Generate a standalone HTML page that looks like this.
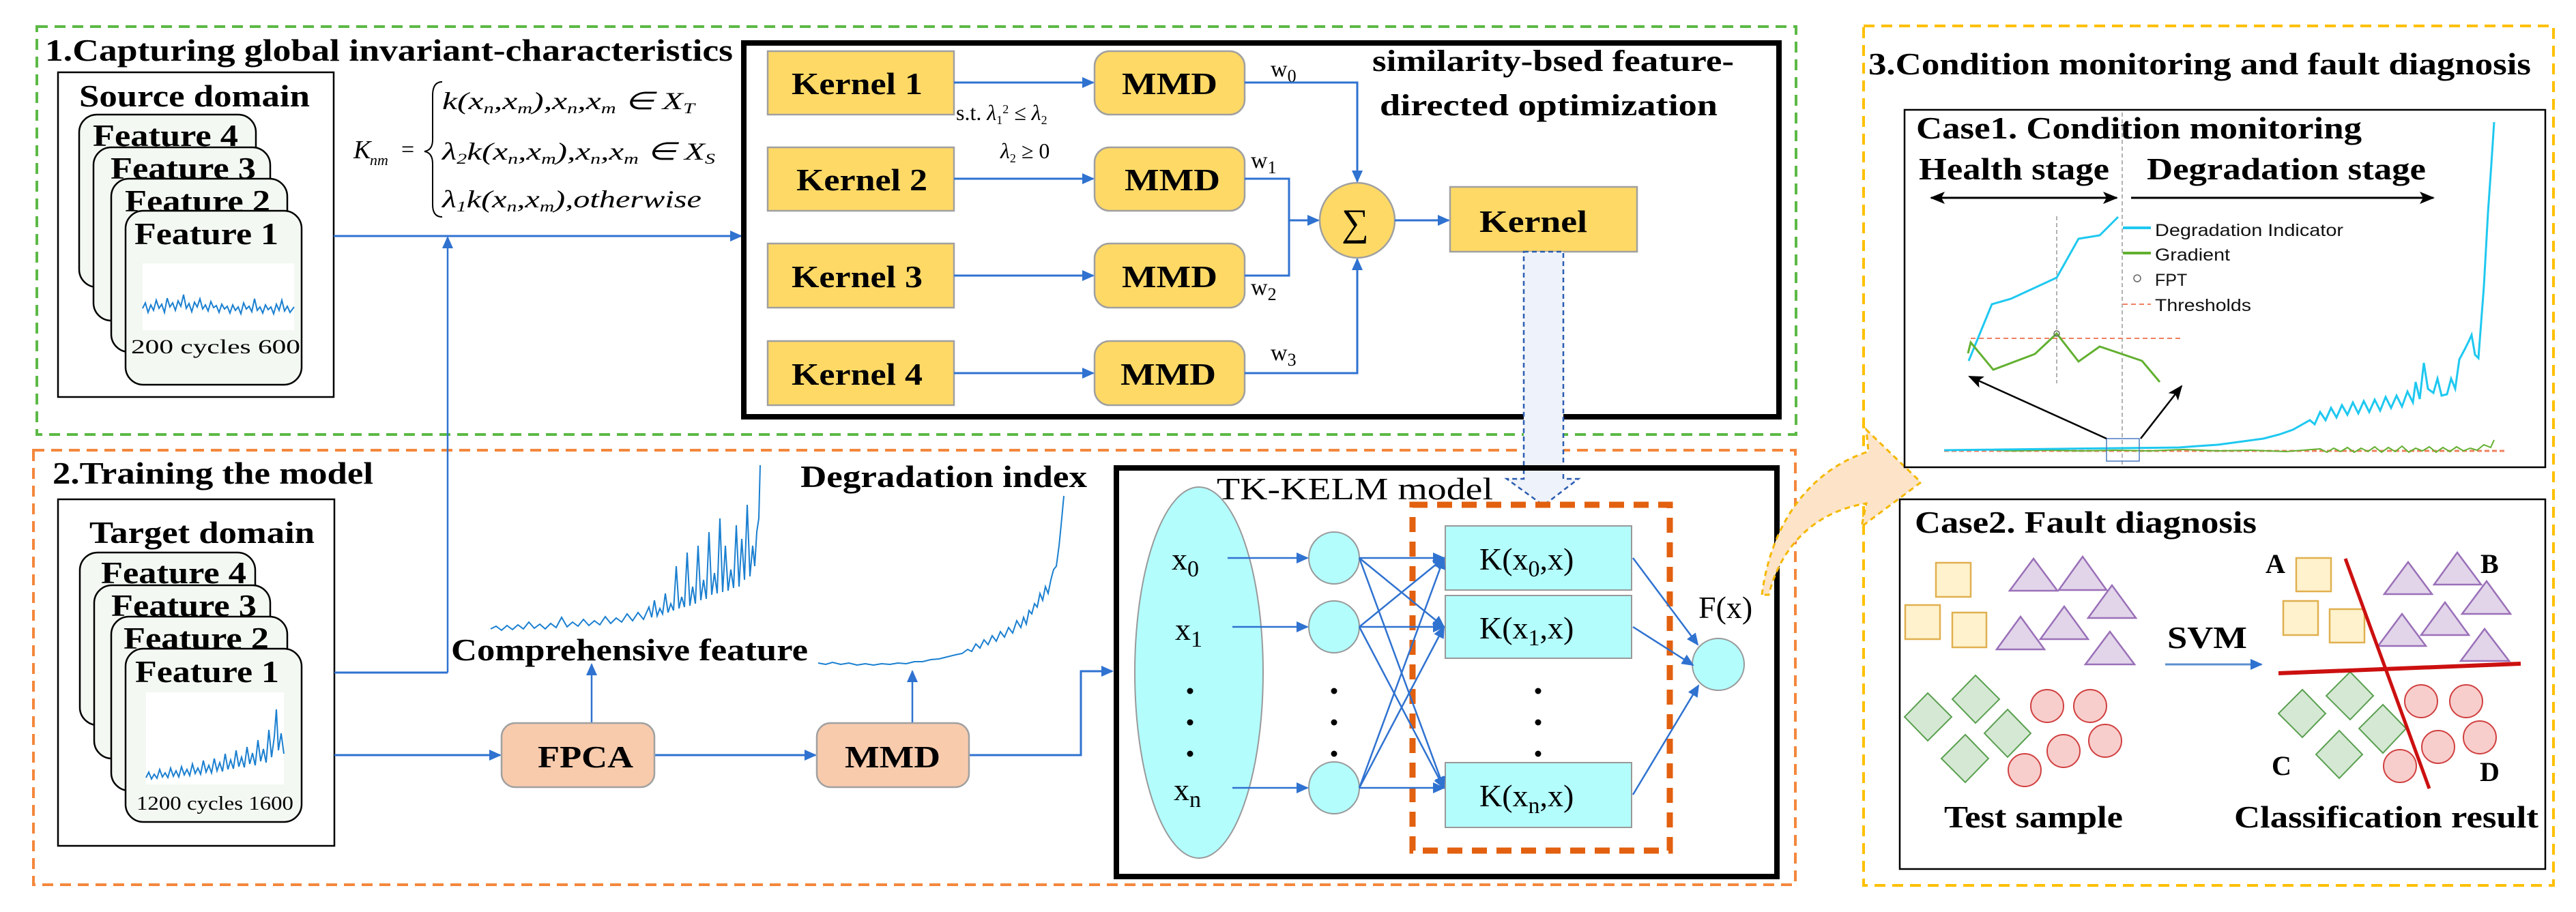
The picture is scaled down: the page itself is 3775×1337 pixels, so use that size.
<!DOCTYPE html>
<html><head><meta charset="utf-8"><style>
html,body{margin:0;padding:0;background:#fff}
svg{display:block}
.t{font-family:"Liberation Serif",serif;font-weight:bold;fill:#000}
.s{font-family:"Liberation Sans",sans-serif;fill:#111}
.i{font-family:"Liberation Serif",serif;font-style:italic;fill:#000}
</style></head><body>
<svg width="3775" height="1337" viewBox="0 0 3775 1337" xmlns="http://www.w3.org/2000/svg">
<defs>
<marker id="ab" markerWidth="18" markerHeight="18" refX="16" refY="9" orient="auto" markerUnits="userSpaceOnUse"><path d="M0,1 L18,9 L0,17 Z" fill="#2f72d0"/></marker>
<marker id="ak" markerWidth="22" markerHeight="22" refX="20" refY="11" orient="auto" markerUnits="userSpaceOnUse"><path d="M0,2 L22,11 L0,20 L5,11 Z" fill="#000"/></marker>
<marker id="ak2" markerWidth="22" markerHeight="22" refX="20" refY="11" orient="auto-start-reverse" markerUnits="userSpaceOnUse"><path d="M0,2 L22,11 L0,20 L5,11 Z" fill="#000"/></marker>
</defs>

<rect x="54" y="39" width="2578" height="598" fill="none" stroke="#5cb946" stroke-width="4" stroke-dasharray="16,10"/>
<rect x="49" y="660" width="2582" height="637" fill="none" stroke="#f4873c" stroke-width="4" stroke-dasharray="16,10"/>
<rect x="2731" y="38" width="1011" height="1260" fill="none" stroke="#ffc000" stroke-width="4" stroke-dasharray="16,10"/>

<text class="t" x="66" y="89" font-size="46" textLength="1008" lengthAdjust="spacingAndGlyphs">1.Capturing  global invariant-characteristics</text>
<text class="t" x="77" y="709" font-size="46" textLength="470" lengthAdjust="spacingAndGlyphs">2.Training the model</text>
<text class="t" x="2738" y="109" font-size="46" textLength="971" lengthAdjust="spacingAndGlyphs">3.Condition monitoring and fault diagnosis</text>

<!-- Source domain -->
<rect x="85" y="106" width="404" height="476" fill="#fff" stroke="#000" stroke-width="2.5"/>
<text class="t" x="116" y="156" font-size="46" textLength="338" lengthAdjust="spacingAndGlyphs">Source domain</text>
<rect x="116" y="168" width="259" height="253" rx="26" fill="#f3f8f2" stroke="#000" stroke-width="2.5"/>
<text class="t" x="136" y="214" font-size="46" textLength="213" lengthAdjust="spacingAndGlyphs">Feature 4</text>
<rect x="137" y="216" width="259" height="254" rx="26" fill="#f3f8f2" stroke="#000" stroke-width="2.5"/>
<text class="t" x="162" y="262" font-size="46" textLength="213" lengthAdjust="spacingAndGlyphs">Feature 3</text>
<rect x="163" y="262" width="258" height="254" rx="26" fill="#f3f8f2" stroke="#000" stroke-width="2.5"/>
<text class="t" x="183" y="310" font-size="46" textLength="213" lengthAdjust="spacingAndGlyphs">Feature 2</text>
<rect x="184" y="309" width="258" height="255" rx="26" fill="#f3f8f2" stroke="#000" stroke-width="2.5"/>
<text class="t" x="197" y="358" font-size="46" textLength="211" lengthAdjust="spacingAndGlyphs">Feature 1</text>
<rect x="209" y="386" width="222" height="98" fill="#fff"/>
<path fill="none" stroke="#1a7fd0" stroke-width="2" d="M209,452 L213,444 L217,458 L221,447 L225,455 L229,440 L233,452 L237,446 L241,458 L245,437 L249,450 L253,444 L257,455 L261,441 L265,449 L269,432 L273,452 L277,445 L281,457 L285,443 L289,450 L293,438 L297,453 L301,447 L305,456 L309,442 L313,451 L317,448 L321,458 L325,446 L329,453 L333,449 L337,459 L341,447 L345,455 L349,450 L353,460 L357,444 L361,453 L365,449 L369,457 L373,438 L377,455 L381,450 L385,459 L389,447 L393,454 L397,450 L401,460 L405,446 L409,455 L413,440 L417,456 L421,449 L425,458 L431,450"/>
<text class="t" style="font-weight:normal" x="192" y="518" font-size="30" textLength="248" lengthAdjust="spacingAndGlyphs">200   cycles     600</text>

<!-- formula -->
<text class="i" x="518" y="232" font-size="38">K</text><text class="i" x="542" y="242" font-size="22">nm</text>
<text class="t" style="font-weight:normal" x="588" y="230" font-size="34">=</text>
<path d="M648,120 Q634,120 634,140 L634,205 Q634,220 622,222 Q634,224 634,240 L634,300 Q634,318 648,318" fill="none" stroke="#000" stroke-width="2"/>
<text class="i" x="648" y="160" font-size="36" textLength="370" lengthAdjust="spacingAndGlyphs">k(x<tspan font-size="22" dy="6">n</tspan><tspan dy="-6">,x</tspan><tspan font-size="22" dy="6">m</tspan><tspan dy="-6">),x</tspan><tspan font-size="22" dy="6">n</tspan><tspan dy="-6">,x</tspan><tspan font-size="22" dy="6">m</tspan><tspan dy="-6"> ∈ X</tspan><tspan font-size="22" dy="6">T</tspan></text>
<text class="i" x="648" y="234" font-size="36" textLength="400" lengthAdjust="spacingAndGlyphs">λ<tspan font-size="22" dy="6">2</tspan><tspan dy="-6">k(x</tspan><tspan font-size="22" dy="6">n</tspan><tspan dy="-6">,x</tspan><tspan font-size="22" dy="6">m</tspan><tspan dy="-6">),x</tspan><tspan font-size="22" dy="6">n</tspan><tspan dy="-6">,x</tspan><tspan font-size="22" dy="6">m</tspan><tspan dy="-6"> ∈ X</tspan><tspan font-size="22" dy="6">S</tspan></text>
<text class="i" x="648" y="304" font-size="36" textLength="380" lengthAdjust="spacingAndGlyphs">λ<tspan font-size="22" dy="6">1</tspan><tspan dy="-6">k(x</tspan><tspan font-size="22" dy="6">n</tspan><tspan dy="-6">,x</tspan><tspan font-size="22" dy="6">m</tspan><tspan dy="-6">),otherwise</tspan></text>

<line x1="489" y1="346" x2="1086" y2="346" stroke="#2f72d0" stroke-width="3" marker-end="url(#ab)"/>
<line x1="656" y1="986" x2="656" y2="348" stroke="#2f72d0" stroke-width="2.5" marker-end="url(#ab)"/>

<!-- kernel block -->
<rect x="1090" y="63" width="1517" height="548" fill="none" stroke="#000" stroke-width="8"/>
<g fill="#ffd966" stroke="#a0a0a0" stroke-width="2.5">
<rect x="1125" y="75" width="273" height="93"/><rect x="1125" y="216" width="273" height="93"/>
<rect x="1125" y="357" width="273" height="94"/><rect x="1125" y="500" width="273" height="94"/>
<rect x="1604" y="75" width="220" height="93" rx="22"/><rect x="1604" y="216" width="220" height="93" rx="22"/>
<rect x="1604" y="357" width="220" height="94" rx="22"/><rect x="1604" y="500" width="220" height="94" rx="22"/>
<circle cx="1989" cy="323" r="55"/>
<rect x="2125" y="274" width="274" height="95"/>
</g>
<g class="t" font-size="46">
<text x="1160" y="138" textLength="192" lengthAdjust="spacingAndGlyphs">Kernel 1</text>
<text x="1167" y="279" textLength="192" lengthAdjust="spacingAndGlyphs">Kernel 2</text>
<text x="1160" y="421" textLength="192" lengthAdjust="spacingAndGlyphs">Kernel 3</text>
<text x="1160" y="564" textLength="192" lengthAdjust="spacingAndGlyphs">Kernel 4</text>
<text x="1644" y="138" textLength="140" lengthAdjust="spacingAndGlyphs">MMD</text>
<text x="1648" y="279" textLength="140" lengthAdjust="spacingAndGlyphs">MMD</text>
<text x="1644" y="421" textLength="140" lengthAdjust="spacingAndGlyphs">MMD</text>
<text x="1642" y="564" textLength="140" lengthAdjust="spacingAndGlyphs">MMD</text>
<text x="2168" y="340" textLength="158" lengthAdjust="spacingAndGlyphs">Kernel</text>
</g>
<text class="t" style="font-weight:normal" x="1966" y="345" font-size="56">∑</text>
<text class="t" x="2011" y="104" font-size="44" textLength="530" lengthAdjust="spacingAndGlyphs">similarity-bsed feature-</text>
<text class="t" x="2022" y="169" font-size="44" textLength="495" lengthAdjust="spacingAndGlyphs">directed  optimization</text>
<text class="t" style="font-weight:normal" x="1401" y="176" font-size="32">s.t. <tspan class="i">λ</tspan><tspan font-size="18" dy="6">1</tspan><tspan font-size="18" dy="-16">2</tspan><tspan dy="10"> ≤ </tspan><tspan class="i">λ</tspan><tspan font-size="18" dy="6">2</tspan></text>
<text class="t" style="font-weight:normal" x="1466" y="232" font-size="32"><tspan class="i">λ</tspan><tspan font-size="18" dy="6">2</tspan><tspan dy="-6"> ≥ 0</tspan></text>
<g class="t" style="font-weight:normal" font-size="34">
<text x="1862" y="112">w<tspan font-size="26" dy="8">0</tspan></text>
<text x="1833" y="246">w<tspan font-size="26" dy="8">1</tspan></text>
<text x="1833" y="432">w<tspan font-size="26" dy="8">2</tspan></text>
<text x="1862" y="528">w<tspan font-size="26" dy="8">3</tspan></text>
</g>
<g stroke="#2f72d0" stroke-width="3" fill="none">
<line x1="1398" y1="121" x2="1602" y2="121" marker-end="url(#ab)"/>
<line x1="1398" y1="262" x2="1602" y2="262" marker-end="url(#ab)"/>
<line x1="1398" y1="404" x2="1602" y2="404" marker-end="url(#ab)"/>
<line x1="1398" y1="547" x2="1602" y2="547" marker-end="url(#ab)"/>
<polyline points="1824,121 1989,121 1989,266" marker-end="url(#ab)"/>
<polyline points="1824,547 1989,547 1989,380" marker-end="url(#ab)"/>
<polyline points="1824,262 1889,262 1889,404 1824,404"/>
<line x1="1889" y1="323" x2="1932" y2="323" marker-end="url(#ab)"/>
<line x1="2044" y1="323" x2="2123" y2="323" marker-end="url(#ab)"/>
</g>

<path d="M2233,369 L2291,369 L2291,702 L2313,702 L2262,741 L2208,702 L2233,702 Z" fill="#eef2fa" stroke="#2a5cb0" stroke-width="2.5" stroke-dasharray="7,5"/>

<!-- Target domain -->
<rect x="85" y="732" width="405" height="508" fill="#fff" stroke="#000" stroke-width="2.5"/>
<text class="t" x="131" y="796" font-size="46" textLength="330" lengthAdjust="spacingAndGlyphs">Target domain</text>
<rect x="117" y="810" width="257" height="253" rx="26" fill="#f3f8f2" stroke="#000" stroke-width="2.5"/>
<text class="t" x="148" y="855" font-size="46" textLength="213" lengthAdjust="spacingAndGlyphs">Feature 4</text>
<rect x="138" y="858" width="258" height="254" rx="26" fill="#f3f8f2" stroke="#000" stroke-width="2.5"/>
<text class="t" x="163" y="903" font-size="46" textLength="213" lengthAdjust="spacingAndGlyphs">Feature 3</text>
<rect x="163" y="904" width="258" height="255" rx="26" fill="#f3f8f2" stroke="#000" stroke-width="2.5"/>
<text class="t" x="181" y="951" font-size="46" textLength="213" lengthAdjust="spacingAndGlyphs">Feature 2</text>
<rect x="184" y="951" width="258" height="254" rx="26" fill="#f3f8f2" stroke="#000" stroke-width="2.5"/>
<text class="t" x="198" y="1000" font-size="46" textLength="211" lengthAdjust="spacingAndGlyphs">Feature 1</text>
<rect x="214" y="1015" width="202" height="135" fill="#fff"/>
<path fill="none" stroke="#1a7fd0" stroke-width="2" d="M214,1140 L218,1132 L222,1142 L226,1135 L230,1141 L234,1128 L238,1139 L242,1133 L246,1140 L250,1126 L254,1138 L258,1130 L262,1139 L266,1124 L270,1136 L274,1128 L278,1137 L282,1120 L286,1134 L290,1126 L294,1135 L298,1115 L302,1132 L306,1122 L310,1133 L314,1112 L318,1130 L322,1118 L326,1131 L330,1105 L334,1128 L338,1114 L342,1127 L346,1100 L350,1124 L354,1110 L358,1125 L362,1095 L366,1120 L370,1104 L374,1122 L378,1085 L382,1116 L386,1098 L390,1118 L394,1070 L398,1110 L402,1080 L405,1040 L408,1100 L412,1075 L416,1105"/>
<text class="t" style="font-weight:normal" x="200" y="1187" font-size="28" textLength="230" lengthAdjust="spacingAndGlyphs">1200 cycles 1600</text>

<g stroke="#2f72d0" stroke-width="3" fill="none">
<polyline points="490,986 656,986"/>
<line x1="490" y1="1107" x2="733" y2="1107" marker-end="url(#ab)"/>
<line x1="959" y1="1107" x2="1195" y2="1107" marker-end="url(#ab)"/>
<line x1="867" y1="1060" x2="867" y2="974" stroke-width="2.5" marker-end="url(#ab)"/>
<line x1="1337" y1="1060" x2="1337" y2="984" stroke-width="2.5" marker-end="url(#ab)"/>
<polyline points="1420,1107 1584,1107 1584,984 1630,984" marker-end="url(#ab)"/>
</g>
<rect x="735" y="1060" width="224" height="94" rx="20" fill="#f8cbad" stroke="#a0a0a0" stroke-width="2.5"/>
<rect x="1197" y="1060" width="223" height="94" rx="20" fill="#f8cbad" stroke="#a0a0a0" stroke-width="2.5"/>
<text class="t" x="788" y="1125" font-size="46" textLength="140" lengthAdjust="spacingAndGlyphs">FPCA</text>
<text class="t" x="1238" y="1125" font-size="46" textLength="140" lengthAdjust="spacingAndGlyphs">MMD</text>
<path fill="none" stroke="#1a7fd0" stroke-width="2" d="M719,922 L727,918 L735,924 L743,917 L751,923 L759,916 L767,922 L775,912 L783,921 L791,915 L799,922 L807,914 L815,920 L823,905 L831,919 L839,912 L847,918 L855,908 L863,917 L871,910 L879,916 L887,904 L895,914 L903,906 L911,912 L919,900 L927,910 L935,898 L943,908 L951,890 L955,905 L959,880 L963,903 L967,892 L971,900 L975,870 L979,898 L983,885 L987,895 L991,830 L995,892 L999,875 L1003,890 L1007,810 L1011,888 L1015,860 L1019,885 L1023,800 L1027,880 L1031,850 L1035,878 L1039,780 L1043,872 L1047,840 L1051,870 L1055,760 L1059,868 L1063,800 L1067,866 L1071,835 L1075,862 L1079,770 L1083,860 L1087,790 L1091,850 L1095,740 L1099,845 L1103,800 L1106,830 L1109,780 L1112,760 L1114,682"/>
<path fill="none" stroke="#1a7fd0" stroke-width="2" d="M1199,972 L1210,974 L1220,971 L1232,974 L1244,972 L1256,975 L1268,973 L1280,975 L1292,973 L1304,974 L1316,972 L1328,973 L1340,970 L1352,970 L1364,967 L1376,966 L1388,963 L1400,960 L1410,958 L1418,952 L1424,955 L1430,944 L1436,950 L1442,938 L1448,945 L1454,932 L1460,940 L1466,926 L1472,934 L1478,920 L1484,928 L1490,910 L1496,920 L1500,905 L1504,915 L1508,895 L1512,900 L1516,885 L1520,890 L1524,870 L1528,880 L1532,860 L1536,870 L1540,850 L1544,835 L1548,830 L1552,800 L1555,770 L1559,727"/>
<text class="t" x="661" y="968" font-size="46" textLength="523" lengthAdjust="spacingAndGlyphs">Comprehensive feature</text>
<text class="t" x="1173" y="714" font-size="46" textLength="420" lengthAdjust="spacingAndGlyphs">Degradation index</text>

<!-- TK-KELM -->
<rect x="1636" y="686" width="968" height="599" fill="none" stroke="#000" stroke-width="8"/>
<text class="t" style="font-weight:normal" x="1783" y="732" font-size="46" textLength="405" lengthAdjust="spacingAndGlyphs">TK-KELM model</text>
<ellipse cx="1757" cy="986" rx="94" ry="272" fill="#b3fdfd" stroke="#999" stroke-width="2"/>
<g class="t" style="font-weight:normal" font-size="46">
<text x="1717" y="835">x<tspan font-size="34" dy="10">0</tspan></text>
<text x="1722" y="938">x<tspan font-size="34" dy="10">1</tspan></text>
<text x="1720" y="1173">x<tspan font-size="34" dy="10">n</tspan></text>
</g>
<g fill="#000">
<circle cx="1744" cy="1013" r="4.5"/><circle cx="1744" cy="1059" r="4.5"/><circle cx="1744" cy="1105" r="4.5"/>
<circle cx="1955" cy="1013" r="4.5"/><circle cx="1955" cy="1059" r="4.5"/><circle cx="1955" cy="1105" r="4.5"/>
<circle cx="2254" cy="1013" r="4.5"/><circle cx="2254" cy="1059" r="4.5"/><circle cx="2254" cy="1105" r="4.5"/>
</g>
<g fill="#b3fdfd" stroke="#999" stroke-width="2">
<ellipse cx="1955" cy="818" rx="37" ry="38"/><ellipse cx="1955" cy="919" rx="37" ry="38"/><ellipse cx="1955" cy="1155" rx="37" ry="38"/>
<rect x="2118" y="771" width="273" height="94"/><rect x="2118" y="873" width="273" height="92"/><rect x="2118" y="1118" width="273" height="95"/>
<ellipse cx="2518" cy="974" rx="38" ry="38"/>
</g>
<rect x="2070" y="740" width="377" height="507" fill="none" stroke="#e2600f" stroke-width="9" stroke-dasharray="22,14"/>
<g class="t" style="font-weight:normal" font-size="46">
<text x="2168" y="835">K(x<tspan font-size="34" dy="10">0</tspan><tspan dy="-10">,x)</tspan></text>
<text x="2168" y="936">K(x<tspan font-size="34" dy="10">1</tspan><tspan dy="-10">,x)</tspan></text>
<text x="2168" y="1182">K(x<tspan font-size="34" dy="10">n</tspan><tspan dy="-10">,x)</tspan></text>
<text x="2489" y="906">F(x)</text>
</g>
<g stroke="#2f72d0" stroke-width="2.5" fill="none" marker-end="url(#ab)">
<line x1="1799" y1="818" x2="1916" y2="818"/>
<line x1="1806" y1="919" x2="1916" y2="919"/>
<line x1="1806" y1="1155" x2="1916" y2="1155"/>
<line x1="1992" y1="818" x2="2116" y2="818"/><line x1="1992" y1="818" x2="2116" y2="919"/><line x1="1992" y1="818" x2="2116" y2="1155"/>
<line x1="1992" y1="919" x2="2116" y2="818"/><line x1="1992" y1="919" x2="2116" y2="919"/><line x1="1992" y1="919" x2="2116" y2="1155"/>
<line x1="1992" y1="1155" x2="2116" y2="818"/><line x1="1992" y1="1155" x2="2116" y2="919"/><line x1="1992" y1="1155" x2="2116" y2="1155"/>
<line x1="2393" y1="818" x2="2488" y2="945"/>
<line x1="2393" y1="919" x2="2481" y2="975"/>
<line x1="2393" y1="1165" x2="2489" y2="1005"/>
</g>

<path d="M2582,872 C2595,770 2650,690 2738,662 L2735,630 L2815,707 L2728,772 L2735,738 C2660,750 2610,800 2592,872 Z" fill="#fde4c8" stroke="#f5b800" stroke-width="3" stroke-dasharray="8,6"/>

<!-- Case1 -->
<rect x="2791" y="161" width="939" height="524" fill="#fff" stroke="#000" stroke-width="2.5"/>
<text class="t" x="2808" y="203" font-size="46" textLength="653" lengthAdjust="spacingAndGlyphs">Case1. Condition monitoring</text>
<text class="t" x="2812" y="263" font-size="46" textLength="279" lengthAdjust="spacingAndGlyphs">Health stage</text>
<text class="t" x="3146" y="263" font-size="46" textLength="409" lengthAdjust="spacingAndGlyphs">Degradation stage</text>
<line x1="2830" y1="290" x2="3102" y2="290" stroke="#000" stroke-width="3" marker-end="url(#ak)" marker-start="url(#ak2)"/>
<line x1="3123" y1="290" x2="3566" y2="290" stroke="#000" stroke-width="3" marker-end="url(#ak)"/>
<line x1="3110" y1="165" x2="3110" y2="685" stroke="#999" stroke-width="1.5" stroke-dasharray="6,4"/>
<line x1="3014" y1="317" x2="3014" y2="562" stroke="#999" stroke-width="1.5" stroke-dasharray="6,4"/>
<line x1="2888" y1="496" x2="3200" y2="496" stroke="#f08060" stroke-width="2" stroke-dasharray="7,5"/>
<polyline points="2885,529 2919,446 2947,438 3014,407 3046,350 3077,345 3104,318" fill="none" stroke="#1ec8f0" stroke-width="3"/>
<polyline points="2884,518 2888,502 2921,542 2982,519 3014,489 3046,530 3077,508 3139,529 3165,560" fill="none" stroke="#62b030" stroke-width="3"/>
<circle cx="3014" cy="489" r="4" fill="none" stroke="#666" stroke-width="1.5"/>
<line x1="3111" y1="334" x2="3152" y2="334" stroke="#1ec8f0" stroke-width="4"/>
<text class="s" x="3158" y="346" font-size="25" textLength="276" lengthAdjust="spacingAndGlyphs">Degradation Indicator</text>
<line x1="3111" y1="371" x2="3152" y2="371" stroke="#62b030" stroke-width="4"/>
<text class="s" x="3158" y="382" font-size="25" textLength="110" lengthAdjust="spacingAndGlyphs">Gradient</text>
<circle cx="3132" cy="408" r="5" fill="none" stroke="#666" stroke-width="1.5"/>
<text class="s" x="3158" y="419" font-size="25">FPT</text>
<line x1="3111" y1="446" x2="3152" y2="446" stroke="#f08060" stroke-width="2" stroke-dasharray="7,5"/>
<text class="s" x="3158" y="456" font-size="25" textLength="141" lengthAdjust="spacingAndGlyphs">Thresholds</text>
<line x1="2849" y1="661" x2="3670" y2="661" stroke="#f08060" stroke-width="3" stroke-dasharray="7,4"/>
<path fill="none" stroke="#62b030" stroke-width="2" d="M2849,660 L2900,659 L2950,661 L3000,660 L3050,661 L3100,660 L3150,661 L3200,659 L3250,661 L3300,660 L3350,662 L3400,658 L3410,663 L3420,657 L3430,662 L3440,656 L3450,663 L3460,657 L3470,662 L3480,655 L3490,663 L3500,656 L3510,662 L3520,654 L3530,663 L3540,657 L3550,661 L3560,655 L3570,663 L3580,656 L3590,662 L3600,655 L3610,661 L3620,657 L3630,660 L3640,652 L3650,656 L3655,645"/>
<path fill="none" stroke="#1ec8f0" stroke-width="3" d="M2849,660 L3193,656 L3220,654 L3250,652 L3280,648 L3317,643 L3340,637 L3360,630 L3385,616 L3392,622 L3400,604 L3408,616 L3416,598 L3424,612 L3432,594 L3440,608 L3448,590 L3456,606 L3464,588 L3472,604 L3480,586 L3488,602 L3496,582 L3504,598 L3512,580 L3520,596 L3528,574 L3536,590 L3540,560 L3546,585 L3552,532 L3558,570 L3566,576 L3572,555 L3578,580 L3586,578 L3592,555 L3598,570 L3604,527 L3612,512 L3618,500 L3622,491 L3627,520 L3632,525 L3640,420 L3646,312 L3651,240 L3655,179"/>
<rect x="3087" y="643" width="48" height="33" fill="none" stroke="#4a7ac0" stroke-width="1.5"/>
<line x1="3087" y1="643" x2="2886" y2="552" stroke="#000" stroke-width="2.5" marker-end="url(#ak)"/>
<line x1="3137" y1="643" x2="3197" y2="566" stroke="#000" stroke-width="2.5" marker-end="url(#ak)"/>

<!-- Case2 -->
<rect x="2784" y="732" width="946" height="542" fill="#fff" stroke="#000" stroke-width="2.5"/>
<text class="t" x="2806" y="781" font-size="46" textLength="501" lengthAdjust="spacingAndGlyphs">Case2. Fault diagnosis</text>
<g fill="#fff2cc" stroke="#e0b050" stroke-width="2.5">
<rect x="2837" y="825" width="51" height="50"/><rect x="2792" y="887" width="51" height="50"/><rect x="2861" y="898" width="50" height="51"/>
<rect x="3365" y="818" width="51" height="49"/><rect x="3346" y="881" width="51" height="50"/><rect x="3414" y="893" width="51" height="49"/>
</g>
<g fill="#e2d5ea" stroke="#9a70b8" stroke-width="2.5">
<polygon points="2945,866 3015,866 2980,819"/><polygon points="3017,865 3087,865 3052,816"/><polygon points="3060,906 3130,906 3095,858"/>
<polygon points="2926,952 2996,952 2961,904"/><polygon points="2990,937 3060,937 3025,889"/><polygon points="3056,974 3128,974 3092,926"/>
<polygon points="3494,871 3564,871 3529,824"/><polygon points="3567,857 3636,857 3601,810"/><polygon points="3608,900 3679,900 3644,852"/>
<polygon points="3485,947 3555,947 3520,900"/><polygon points="3548,931 3618,931 3583,883"/><polygon points="3606,969 3677,969 3641,922"/>
</g>
<g fill="#d5e8d4" stroke="#5aa050" stroke-width="2">
<polygon points="2825,1016 2860,1051 2825,1086 2791,1051"/><polygon points="2895,990 2930,1025 2895,1060 2861,1025"/>
<polygon points="2942,1040 2976,1075 2942,1110 2908,1075"/><polygon points="2880,1077 2914,1112 2880,1147 2845,1112"/>
<polygon points="3374,1011 3408,1046 3374,1081 3339,1046"/><polygon points="3444,985 3478,1020 3444,1055 3409,1020"/>
<polygon points="3492,1033 3526,1068 3492,1104 3457,1068"/><polygon points="3428,1071 3462,1106 3428,1141 3394,1106"/>
</g>
<g fill="#f8cecc" stroke="#d04040" stroke-width="2">
<ellipse cx="3000" cy="1035" rx="24" ry="24"/><ellipse cx="3063" cy="1035" rx="24" ry="24"/><ellipse cx="3085" cy="1086" rx="24" ry="24"/>
<ellipse cx="3024" cy="1101" rx="24" ry="24"/><ellipse cx="2967" cy="1129" rx="24" ry="24"/>
<ellipse cx="3548" cy="1028" rx="24" ry="24"/><ellipse cx="3614" cy="1028" rx="24" ry="24"/><ellipse cx="3634" cy="1081" rx="24" ry="24"/>
<ellipse cx="3573" cy="1095" rx="24" ry="24"/><ellipse cx="3517" cy="1123" rx="24" ry="24"/>
</g>
<line x1="3173" y1="974" x2="3314" y2="974" stroke="#5b8fd0" stroke-width="3" marker-end="url(#ab)"/>
<text class="t" x="3176" y="950" font-size="46" textLength="117" lengthAdjust="spacingAndGlyphs">SVM</text>
<line x1="3437" y1="819" x2="3560" y2="1156" stroke="#cc1010" stroke-width="5"/>
<line x1="3339" y1="987" x2="3694" y2="973" stroke="#cc1010" stroke-width="6"/>
<g class="t" font-size="40">
<text x="3320" y="840">A</text><text x="3635" y="840">B</text><text x="3329" y="1136">C</text><text x="3634" y="1145">D</text>
</g>
<text class="t" x="2849" y="1213" font-size="46" textLength="262" lengthAdjust="spacingAndGlyphs">Test sample</text>
<text class="t" x="3274" y="1213" font-size="46" textLength="446" lengthAdjust="spacingAndGlyphs">Classification result</text>
</svg>
</body></html>
